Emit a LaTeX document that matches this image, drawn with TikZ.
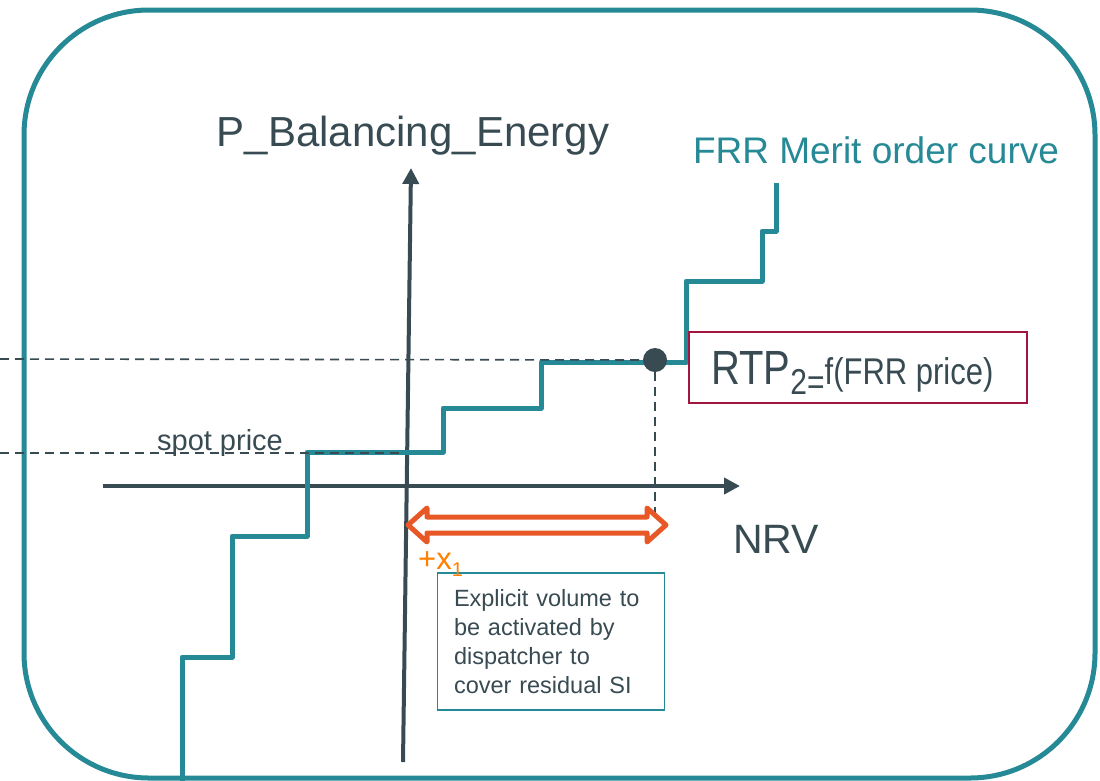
\documentclass[tikz,border=0pt]{standalone}
\usepackage{fontspec}
\setmainfont{Liberation Sans}
\usepackage{tikz}
\usetikzlibrary{arrows.meta}
\usetikzlibrary{calc}

\definecolor{slate}{RGB}{56,74,82}
\definecolor{tealline}{RGB}{38,137,150}
\definecolor{arroworange}{RGB}{232,88,38}
\definecolor{labelorange}{RGB}{255,128,0}
\definecolor{crimson}{RGB}{160,22,62}

\begin{document}
\begin{tikzpicture}[x=1pt, y=-1pt,
        frame_style/.style={draw=tealline, line width=5pt, rounded corners=125pt},
        axis_style/.style={draw=slate, line width=4pt, -{Triangle[length=16pt,width=16pt]}},
        curve_style/.style={draw=tealline, line width=5pt, line join=round},
        dash_style/.style={draw=slate, line width=1.6pt, dash pattern=on 9pt off 6pt},
        label_style/.style={text=slate, inner sep=0pt},
        volume_style/.style={draw=arroworange, fill=white, line width=5pt, line join=round},
        rtp_style/.style={draw=crimson, line width=1.5pt, minimum width=338pt, minimum height=71pt},
        note_style/.style={draw=tealline, line width=1.5pt, text=slate, minimum width=227pt, minimum height=137pt, text width=194pt, align=left, font=\fontsize{23.5}{29}\selectfont}]

        \useasboundingbox (0,0) rectangle (1100,780);

        \draw [frame_style] (24,10) rectangle (1095,778);

        \coordinate (y_bot) at (403,762);
        \coordinate (y_top) at (411,168);
        \coordinate (x_left) at (103,486);
        \coordinate (x_right) at (740,486);

        \draw [axis_style] (y_bot) -- (y_top);

        \draw [axis_style] (x_left) -- (x_right);

        \draw [curve_style] (182,782) |- (232,657) |- (307,536) |- (443,452) |- (541,408) |- (686,362) |- (762,281) |- (776,231) -- (776,183);

        \node [circle, fill=slate, minimum size=24pt, inner sep=0pt] (rtp_pt) at (655,360) {};

        \coordinate (rtp_left) at (0,359);
        \coordinate (rtp_foot) at (655,513);
        \coordinate (spot_left) at (0,453);
        \coordinate (spot_right) at (400,453);

        \draw [dash_style] (rtp_left) -- (rtp_pt);

        \draw [dash_style] (rtp_pt) -- (rtp_foot);

        \draw [dash_style] (spot_left) -- (spot_right);

        \draw [volume_style] (408,525) -- (427,508) -- (427,517) -- (647,517) -- (647,508) -- (666,525) -- (647,542) -- (647,533) -- (427,533) -- (427,542) -- cycle;

        \node [label_style, anchor=base, font=\fontsize{42}{50}\selectfont] (y_label) at (413,146) {P\_Balancing\_Energy};

        \node [label_style, anchor=base, text=tealline, font=\fontsize{37}{44}\selectfont] (curve_label) at (876,163) {FRR Merit order curve};

        \node [label_style, anchor=base, font=\fontsize{41}{48}\selectfont] (x_label) at (776,553) {NRV};

        \node [label_style, anchor=base, font=\fontsize{29}{34}\selectfont] (spot_label) at (220,450) {spot price};

        \node [rtp_style] (rtp_box) at (858,367.5) {};

        \node [label_style, anchor=base west] (rtp_label) at (711,384) {\scalebox{1}[1.2]{\fontsize{40}{48}\selectfont RTP\raisebox{-9pt}{\fontsize{30}{36}\selectfont 2=}\fontsize{31}{36}\selectfont f(FRR price)}};

        \node [note_style] (note) at (551,641.5) {Explicit volume to\\be activated by\\dispatcher to\\cover residual SI};

        \node [label_style, anchor=base west, text=labelorange, font=\fontsize{31}{36}\selectfont] (x1_label) at (418,569) {+x\raisebox{-7pt}{\fontsize{20}{24}\selectfont 1}};

        \end{tikzpicture}
\end{document}
